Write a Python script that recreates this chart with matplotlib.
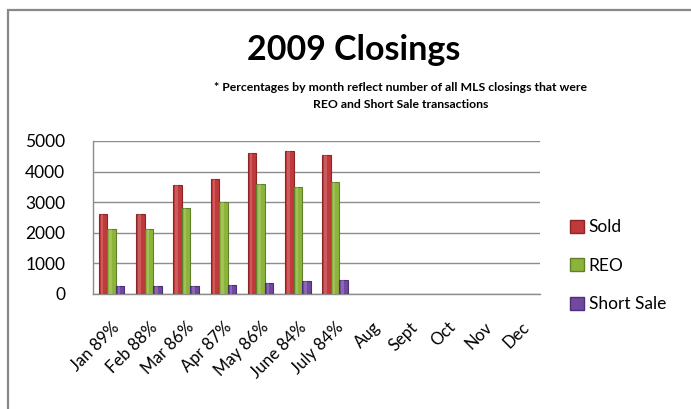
import numpy as np
import matplotlib
matplotlib.use("Agg")
import matplotlib.pyplot as plt
from matplotlib.patches import Patch, Rectangle

# ---------- DATA ----------
months = ["Jan 89%", "Feb 88%", "Mar 86%", "Apr 87%", "May 86%", "June 84%",
          "July 84%", "Aug", "Sept", "Oct", "Nov", "Dec"]
sold = [2600, 2630, 3550, 3770, 4620, 4680, 4530]
reo = [2110, 2110, 2820, 2990, 3610, 3480, 3650]
short_sale = [250, 250, 250, 305, 370, 415, 470]

series_names = ["Sold", "REO", "Short Sale"]
colors = ["#C0393B", "#8DB43A", "#7049A0"]
edges = ["#8E2426", "#61802A", "#4D2E78"]

plt.rcParams["font.family"] = ["Lato", "DejaVu Sans"]

fig = plt.figure(figsize=(6.91, 4.09), dpi=100)
ax = fig.add_axes([0.1346, 0.2812, 0.6469, 0.3741])

x = np.arange(len(months))
w = 0.23
offsets = [-w, 0, w]
for vals, off, c, ec in zip([sold, reo, short_sale], offsets, colors, edges):
    xs = x[:len(vals)] + off
    ax.bar(xs, vals, width=w, color=c, edgecolor=ec, linewidth=0.8, zorder=3)
    # light highlight strip to mimic the glossy look
    ax.bar(xs - w * 0.12, vals, width=w * 0.3, color="white", alpha=0.18,
           linewidth=0, zorder=4)

ax.set_xlim(-0.5, len(months) - 0.5)
ax.set_ylim(0, 5000)
ax.set_yticks(range(0, 5001, 1000))
ax.tick_params(axis="y", length=0, pad=20, labelsize=12.5)
ax.set_xticks(x)
ax.set_xticklabels(months, rotation=45, ha="right", rotation_mode="anchor",
                   fontsize=12)
ax.tick_params(axis="x", length=0, pad=18)
ax.grid(axis="y", color="#8C8C8C", linewidth=1, zorder=0)
for s in ["top", "right"]:
    ax.spines[s].set_visible(False)
for s in ["left", "bottom"]:
    ax.spines[s].set_color("#8C8C8C")
    ax.spines[s].set_linewidth(1)

fig.text(0.512, 0.877, "2009 Closings", ha="center", va="center",
         fontsize=24.5, fontweight="bold")
fig.text(0.58, 0.765, "* Percentages by month reflect number of all MLS closings that were\nREO and Short Sale transactions",
         ha="center", va="center", fontsize=8.8, fontweight="bold",
         linespacing=1.6)

handles = [Patch(facecolor=c, edgecolor=ec) for c, ec in zip(colors, edges)]
fig.legend(handles, series_names, loc="center left",
           bbox_to_anchor=(0.803, 0.35), frameon=False, fontsize=12.5,
           handlelength=0.75, handleheight=0.75, handletextpad=0.3,
           labelspacing=1.3)

# chart border
fig.add_artist(Rectangle((8 / 691, -0.05), 1.0, 1 - 10 / 409 + 0.05,
                         transform=fig.transFigure, fill=False,
                         edgecolor="#888888", linewidth=1.6))

fig.savefig("out.png", dpi=100)
